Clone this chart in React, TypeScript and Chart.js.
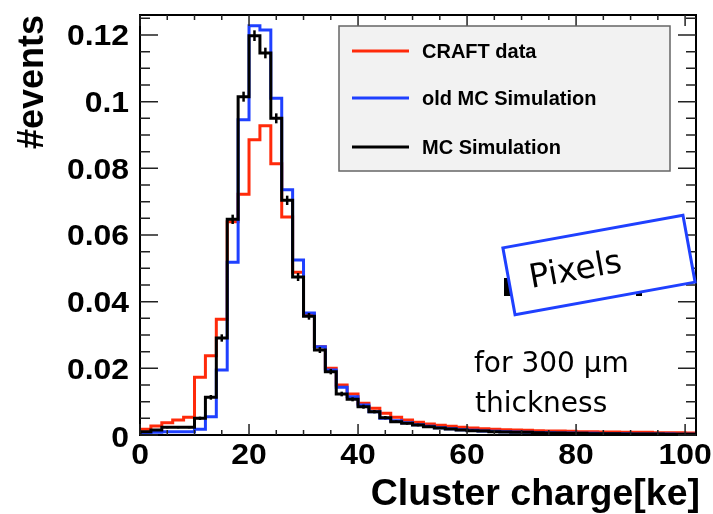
import React, { useEffect, useRef } from 'react';
import { Chart, registerables } from 'chart.js';

Chart.register(...registerables);

// ---- data ----
const BIN_WIDTH = 2;
const X_MAX = 102;
const Y_MAX = 0.126;

const binEdges = [
  0, 2, 4, 6, 8, 10, 12, 14, 16, 18, 20, 22, 24, 26, 28, 30, 32, 34, 36, 38,
  40, 42, 44, 46, 48, 50, 52, 54, 56, 58, 60, 62, 64, 66, 68, 70, 72, 74, 76, 78,
  80, 82, 84, 86, 88, 90, 92, 94, 96, 98, 100,
];

const craftData = [
  0.0017, 0.0027, 0.0037, 0.0045, 0.0053, 0.0173, 0.0238, 0.0347, 0.064, 0.0722,
  0.0886, 0.0928, 0.0814, 0.0654, 0.0488, 0.0362, 0.0265, 0.02, 0.015, 0.0123,
  0.0095, 0.008, 0.0065, 0.0053, 0.0045, 0.0038, 0.0033, 0.0029, 0.0026, 0.0023,
  0.0021, 0.0019, 0.0017, 0.0016, 0.0015, 0.0014, 0.0013, 0.0012, 0.0012, 0.0011,
  0.001, 0.001, 0.0009, 0.0009, 0.0008, 0.0008, 0.0008, 0.0007, 0.0007, 0.0007,
  0.0006,
];

const oldMcSimulation = [
  0.0003, 0.0008, 0.001, 0.001, 0.001, 0.0017, 0.0055, 0.0195, 0.0518, 0.0946,
  0.1228, 0.1215, 0.101, 0.0736, 0.0525, 0.0366, 0.0265, 0.0195, 0.0143, 0.0115,
  0.009, 0.007, 0.005, 0.0043, 0.0037, 0.0031, 0.0026, 0.0022, 0.0019, 0.0016,
  0.0014, 0.0012, 0.0011, 0.001, 0.0009, 0.0008, 0.0007, 0.0007, 0.0006, 0.0006,
  0.0005, 0.0005, 0.0004, 0.0004, 0.0004, 0.0003, 0.0003, 0.0003, 0.0003, 0.0002,
  0.0002,
];

const mcSimulation = [
  0.001, 0.0015, 0.0023, 0.0023, 0.0023, 0.005, 0.0113, 0.0291, 0.0647, 0.1015,
  0.1198, 0.1146, 0.095, 0.0704, 0.0474, 0.0356, 0.0255, 0.019, 0.0123, 0.0107,
  0.0085, 0.007, 0.0052, 0.004, 0.0035, 0.003, 0.0025, 0.0021, 0.0018, 0.0015,
  0.0013, 0.0012, 0.001, 0.0009, 0.0008, 0.0008, 0.0007, 0.0006, 0.0006, 0.0005,
  0.0005, 0.0004, 0.0004, 0.0004, 0.0003, 0.0003, 0.0003, 0.0003, 0.0002, 0.0002,
  0.0002,
];

const mcErrors = [
  0.0002, 0.0003, 0.0003, 0.0003, 0.0003, 0.0005, 0.0007, 0.0011, 0.0014, 0.0015,
  0.0016, 0.0016, 0.0015, 0.0014, 0.0012, 0.001, 0.0009, 0.0008, 0.0007, 0.0006,
  0.0006, 0.0005, 0.0005, 0.0004, 0.0004, 0.0004, 0.0003, 0.0003, 0.0003, 0.0003,
  0.0003, 0.0002, 0.0002, 0.0002, 0.0002, 0.0002, 0.0002, 0.0002, 0.0002, 0.0002,
  0.0002, 0.0002, 0.0002, 0.0002, 0.0002, 0.0002, 0.0002, 0.0002, 0.0002, 0.0002,
  0.0002,
];

const xTickValues = [0, 20, 40, 60, 80, 100];
const xTickLabels = ['0', '20', '40', '60', '80', '100'];
const yTickValues = [0, 0.02, 0.04, 0.06, 0.08, 0.1, 0.12];
const yTickLabels = ['0', '0.02', '0.04', '0.06', '0.08', '0.1', '0.12'];

const seriesLabels = ['CRAFT data', 'old MC Simulation', 'MC Simulation'];
const seriesColors = ['#ff2a0a', '#1f40ff', '#000000'];

const xTitle = 'Cluster charge[ke]';
const yTitle = '#events';
const boxLabel = 'Pixels';
const noteLines = ['for 300 \u03bcm', 'thickness'];

const FONT = '"Liberation Sans", Arial, Helvetica, sans-serif';
const NOTE_FONT = '"DejaVu Sans", Verdana, sans-serif';
const LABEL_STRETCH = 1.1;

function histPoints(values: number[]) {
  const pts: { x: number; y: number }[] = [{ x: binEdges[0], y: 0 }];
  values.forEach((v, i) => pts.push({ x: binEdges[i], y: v }));
  pts.push({ x: X_MAX, y: values[values.length - 1] });
  return pts;
}

function stretchedText(ctx: CanvasRenderingContext2D, text: string, x: number, y: number, align: 'left' | 'right' | 'center', sx: number) {
  ctx.save();
  ctx.translate(x, y);
  ctx.scale(sx, 1);
  ctx.textAlign = align;
  ctx.fillText(text, 0, 0);
  ctx.restore();
}

const decorPlugin = {
  id: 'decor',
  afterDatasetsDraw(chart: any) {
    const { ctx, chartArea: a, scales } = chart;
    const x = scales.x;
    const y = scales.y;
    ctx.save();

    // error bars on MC simulation
    ctx.strokeStyle = '#000';
    ctx.lineWidth = 2.5;
    mcSimulation.forEach((v, i) => {
      const cx = x.getPixelForValue(binEdges[i] + BIN_WIDTH / 2);
      ctx.beginPath();
      ctx.moveTo(cx, y.getPixelForValue(Math.max(0, v - mcErrors[i])));
      ctx.lineTo(cx, y.getPixelForValue(v + mcErrors[i]));
      ctx.stroke();
    });

    // frame
    ctx.lineWidth = 2;
    ctx.strokeStyle = '#000';
    ctx.strokeRect(a.left, a.top, a.right - a.left, a.bottom - a.top);

    // ticks on all four sides (pointing inward)
    ctx.lineWidth = 1.5;
    ctx.strokeStyle = '#222';
    for (let k = 0; k * 5 <= X_MAX; k++) {
      const px = x.getPixelForValue(k * 5);
      const len = k % 4 === 0 ? 11 : 5;
      ctx.beginPath();
      ctx.moveTo(px, a.bottom);
      ctx.lineTo(px, a.bottom - len);
      ctx.moveTo(px, a.top);
      ctx.lineTo(px, a.top + len);
      ctx.stroke();
    }
    for (let k = 0; k * 0.005 <= Y_MAX; k++) {
      const py = y.getPixelForValue(k * 0.005);
      const len = k % 4 === 0 ? 18 : 10;
      ctx.beginPath();
      ctx.moveTo(a.left, py);
      ctx.lineTo(a.left + len, py);
      ctx.moveTo(a.right, py);
      ctx.lineTo(a.right - len, py);
      ctx.stroke();
    }

    // tick labels
    ctx.fillStyle = '#000';
    ctx.font = 'bold 29px ' + FONT;
    ctx.textBaseline = 'alphabetic';
    xTickValues.forEach((v, i) => {
      stretchedText(ctx, xTickLabels[i], x.getPixelForValue(v), a.bottom + 29, 'center', LABEL_STRETCH);
    });
    yTickValues.forEach((v, i) => {
      const py = y.getPixelForValue(v) + 10.4 + (v === 0 ? 2 : 0);
      stretchedText(ctx, yTickLabels[i], a.left - 11, py, 'right', LABEL_STRETCH);
    });

    // axis titles
    ctx.font = 'bold 37.5px ' + FONT;
    ctx.textAlign = 'right';
    ctx.fillText(xTitle, 700, 505);
    ctx.save();
    ctx.translate(43, 15);
    ctx.rotate(-Math.PI / 2);
    ctx.font = 'bold 36px ' + FONT;
    ctx.textAlign = 'right';
    ctx.fillText(yTitle, 0, 0);
    ctx.restore();

    ctx.restore();
  },
  afterDraw(chart: any) {
    const { ctx } = chart;
    ctx.save();

    // legend
    const lx = 339, ly = 26, lw = 331, lh = 145;
    ctx.fillStyle = '#f2f2f2';
    ctx.fillRect(lx, ly, lw, lh);
    ctx.strokeStyle = '#666';
    ctx.lineWidth = 1.5;
    ctx.strokeRect(lx, ly, lw, lh);
    const rowY = [51, 98, 147];
    chart.data.datasets.forEach((ds: any, i: number) => {
      ctx.strokeStyle = ds.borderColor;
      ctx.lineWidth = 3;
      ctx.beginPath();
      ctx.moveTo(352, rowY[i]);
      ctx.lineTo(409, rowY[i]);
      ctx.stroke();
      ctx.fillStyle = '#000';
      ctx.font = 'bold 20px ' + FONT;
      ctx.textAlign = 'left';
      ctx.textBaseline = 'middle';
      ctx.fillText(ds.label, 422, rowY[i] + 1);
    });

    // leftovers of text behind the box
    ctx.fillStyle = '#000';
    ctx.fillRect(504, 278, 8, 18);
    ctx.fillRect(636, 288, 6, 8);

    // rotated "Pixels" box
    ctx.save();
    ctx.translate(599, 265);
    ctx.rotate((-10.3 * Math.PI) / 180);
    ctx.fillStyle = '#ffffff';
    ctx.fillRect(-91.5, -34, 183, 68);
    ctx.strokeStyle = '#1f40ff';
    ctx.lineWidth = 3;
    ctx.strokeRect(-91.5, -34, 183, 68);
    ctx.fillStyle = '#000';
    ctx.font = '33px ' + NOTE_FONT;
    ctx.textAlign = 'center';
    ctx.textBaseline = 'middle';
    ctx.fillText(boxLabel, -24, 2);
    ctx.restore();

    // note
    ctx.fillStyle = '#000';
    ctx.font = '28px ' + NOTE_FONT;
    ctx.textAlign = 'left';
    ctx.textBaseline = 'alphabetic';
    ctx.fillText(noteLines[0], 474, 372);
    ctx.fillText(noteLines[1], 475, 412);

    ctx.restore();
  },
};

export default function App() {
  const ref = useRef<HTMLCanvasElement | null>(null);

  useEffect(() => {
    if (!ref.current) return;
    const values = [craftData, oldMcSimulation, mcSimulation];
    const chart = new Chart(ref.current, {
      type: 'line',
      data: {
        datasets: values.map((vals, i) => ({
          label: seriesLabels[i],
          data: histPoints(vals),
          borderColor: seriesColors[i],
          backgroundColor: seriesColors[i],
          borderWidth: 3,
          pointRadius: 0,
          stepped: 'before' as const,
          fill: false,
          order: 3 - i,
        })),
      },
      options: {
        responsive: false,
        animation: false,
        devicePixelRatio: 1,
        layout: { padding: { top: 15, right: 17, left: 0, bottom: 0 } },
        plugins: {
          legend: { display: false },
          tooltip: { enabled: false },
        },
        scales: {
          x: {
            type: 'linear',
            min: 0,
            max: X_MAX,
            afterBuildTicks: (s: any) => {
              s.ticks = xTickValues.map((v) => ({ value: v }));
            },
            afterFit: (s: any) => {
              s.height = 79;
            },
            grid: { display: false, drawTicks: false },
            border: { display: false },
            ticks: { display: false },
            title: { display: false },
          },
          y: {
            type: 'linear',
            min: 0,
            max: Y_MAX,
            afterBuildTicks: (s: any) => {
              s.ticks = yTickValues.map((v) => ({ value: v }));
            },
            afterFit: (s: any) => {
              s.width = 140;
            },
            grid: { display: false, drawTicks: false },
            border: { display: false },
            ticks: { display: false },
            title: { display: false },
          },
        },
      },
      plugins: [decorPlugin],
    });
    return () => chart.destroy();
  }, []);

  return (
    <canvas
      ref={ref}
      width={713}
      height={514}
      style={{ position: 'fixed', left: 0, top: 0, width: 713, height: 514, background: '#fff' }}
    />
  );
}
